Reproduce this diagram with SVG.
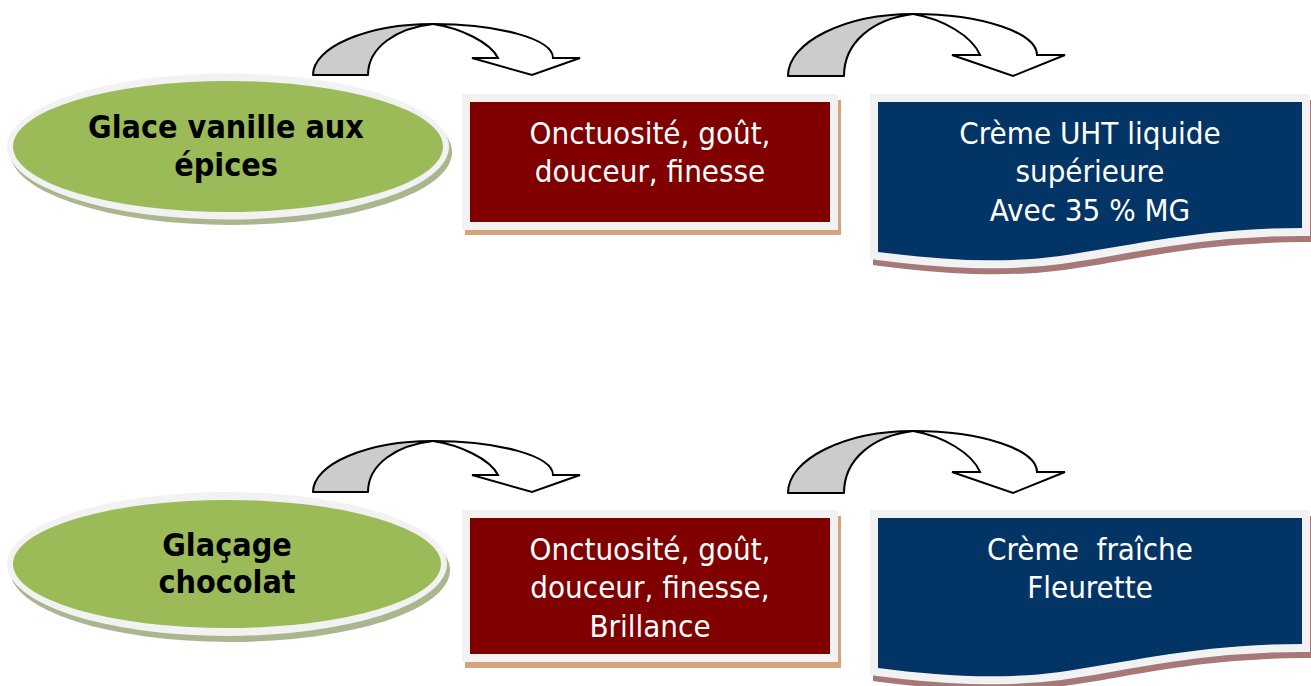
<svg xmlns="http://www.w3.org/2000/svg" width="1311" height="686" viewBox="0 0 1311 686">
  <style>
    .txt{font-family:"DejaVu Sans Condensed","DejaVu Sans",sans-serif;font-size:31px;fill:#ffffff;text-anchor:middle}
    .btxt{font-family:"DejaVu Sans Condensed","DejaVu Sans",sans-serif;font-size:32px;font-weight:bold;fill:#000000;text-anchor:middle}
    .rim{fill:#f2f2f2}
    .green{fill:#9bbb59}
    .gshadow{fill:#aab68e}
    .red{fill:#800000}
    .rshadow{fill:#d6a47c}
    .blue{fill:#033466}
    .bshadow{fill:#a67878;stroke:#a67878;stroke-width:16;stroke-linejoin:miter}
    .brim{fill:#f2f2f2;stroke:#f2f2f2;stroke-width:16;stroke-linejoin:miter}
    .aback{fill:#cccccc;stroke:#000;stroke-width:2;stroke-linejoin:round}
    .afront{fill:#ffffff;stroke:#000;stroke-width:2;stroke-linejoin:miter}
  </style>
  <defs>
    <path id="wave" d="M878,102 H1302 V228 C1200,228 1130,246 1060,256 C1000,264 940,260 878,252 Z"/>
  </defs>
  <rect width="1311" height="686" fill="#ffffff"/>

  <g id="connectors">
    <g id="arrow1">
      <path class="aback" d="M313,75 C313,47 367,24 433,24 C397,28 368,47 368,75 Z"/>
      <path class="afront" d="M433,24 C499,24 553,39 553,58 L580,58 L532,75 L472,58 L498,58 C490,42 460,28 433,24 Z"/>
    </g>
    <g id="arrow2">
      <path class="aback" d="M788,76 C788,42 845,14 913,14 C873,19 844,42 844,76 Z"/>
      <path class="afront" d="M913,14 C983,14 1037,33 1037,55 L1065,55 L1013,76 L952,55 L980,55 C972,36 943,19 913,14 Z"/>
    </g>
    <g id="arrow3" transform="translate(0,417)">
      <path class="aback" d="M313,75 C313,47 367,24 433,24 C397,28 368,47 368,75 Z"/>
      <path class="afront" d="M433,24 C499,24 553,39 553,58 L580,58 L532,75 L472,58 L498,58 C490,42 460,28 433,24 Z"/>
    </g>
    <g id="arrow4" transform="translate(0,417)">
      <path class="aback" d="M788,76 C788,42 845,14 913,14 C873,19 844,42 844,76 Z"/>
      <path class="afront" d="M913,14 C983,14 1037,33 1037,55 L1065,55 L1013,76 L952,55 L980,55 C972,36 943,19 913,14 Z"/>
    </g>
  </g>

  <g id="node-glace">
    <ellipse class="gshadow" cx="231" cy="152" rx="221" ry="73"/>
    <ellipse class="rim" cx="228" cy="146.5" rx="221" ry="73"/>
    <ellipse class="green" cx="228" cy="146.5" rx="215" ry="65.5"/>
    <text class="btxt" x="226" y="138">Glace vanille aux</text>
    <text class="btxt" x="226" y="176">épices</text>
  </g>

  <g id="node-qualite1">
    <rect class="rshadow" x="465" y="100" width="376" height="135"/>
    <rect class="rim" x="462" y="94" width="376" height="136"/>
    <rect class="red" x="470" y="102" width="360" height="120"/>
    <text class="txt" x="650" y="144">Onctuosité, goût,</text>
    <text class="txt" x="650" y="182">douceur, finesse</text>
  </g>

  <g id="node-creme1">
    <use href="#wave" class="bshadow" transform="translate(3,6)"/>
    <use href="#wave" class="brim"/>
    <use href="#wave" class="blue"/>
    <text class="txt" x="1090" y="144">Crème UHT liquide</text>
    <text class="txt" x="1090" y="182">supérieure</text>
    <text class="txt" x="1090" y="221">Avec 35 % MG</text>
  </g>

  <g id="node-glacage">
    <ellipse class="gshadow" cx="230" cy="570" rx="220" ry="72"/>
    <ellipse class="rim" cx="227" cy="564" rx="220" ry="72"/>
    <ellipse class="green" cx="227" cy="564" rx="214" ry="64"/>
    <text class="btxt" x="227" y="556">Glaçage</text>
    <text class="btxt" x="227" y="593">chocolat</text>
  </g>

  <g id="node-qualite2">
    <rect class="rshadow" x="465" y="516" width="376" height="152"/>
    <rect class="rim" x="462" y="510" width="376" height="152"/>
    <rect class="red" x="470" y="518" width="360" height="136"/>
    <text class="txt" x="650" y="560">Onctuosité, goût,</text>
    <text class="txt" x="650" y="598">douceur, finesse,</text>
    <text class="txt" x="650" y="637">Brillance</text>
  </g>

  <g id="node-creme2" transform="translate(0,416)">
    <use href="#wave" class="bshadow" transform="translate(3,6)"/>
    <use href="#wave" class="brim"/>
    <use href="#wave" class="blue"/>
    <text class="txt" x="1090" y="144" xml:space="preserve">Crème  fraîche</text>
    <text class="txt" x="1090" y="182">Fleurette</text>
  </g>
</svg>
